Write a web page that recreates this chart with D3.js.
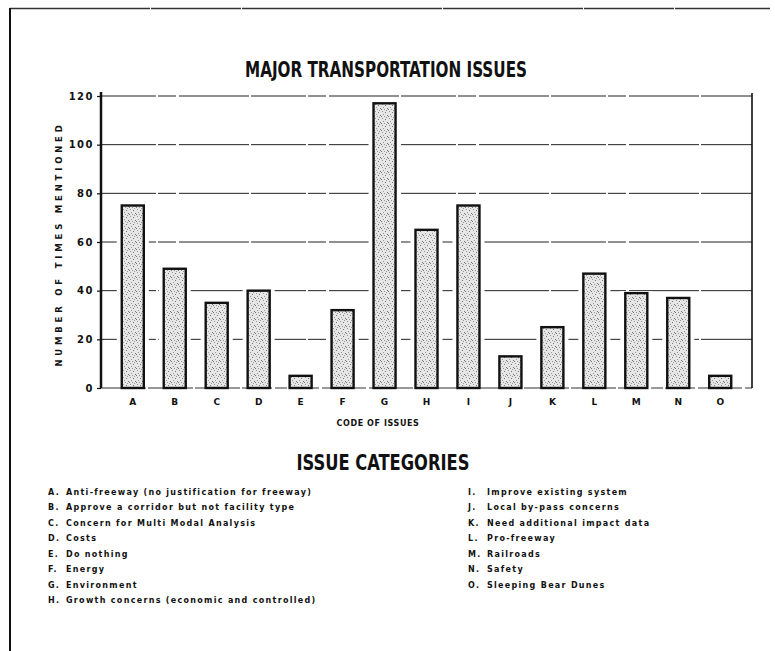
<!DOCTYPE html>
<html>
<head>
<meta charset="utf-8">
<script src="https://cdn.jsdelivr.net/npm/d3@7"></script>
<style>
  body { margin: 0; background: #fff; }
  svg { display: block; }
  text { fill: #111; }
</style>
</head>
<body>
<div id="chart"></div>
<script>
// issue codes and number of times each one was mentioned
var codes = ["A", "B", "C", "D", "E", "F", "G", "H", "I", "J", "K", "L", "M", "N", "O"];
var counts = [75, 49, 35, 40, 5, 32, 117, 65, 75, 13, 25, 47, 39, 37, 5];
var yTicks = [0, 20, 40, 60, 80, 100, 120];

// legend text, two columns
var leftCodes = ["A", "B", "C", "D", "E", "F", "G", "H"];
var leftLabels = [
  "Anti-freeway (no justification for freeway)",
  "Approve a corridor but not facility type",
  "Concern for Multi Modal Analysis",
  "Costs",
  "Do nothing",
  "Energy",
  "Environment",
  "Growth concerns (economic and controlled)"
];
var rightCodes = ["I", "J", "K", "L", "M", "N", "O"];
var rightLabels = [
  "Improve existing system",
  "Local by-pass concerns",
  "Need additional impact data",
  "Pro-freeway",
  "Railroads",
  "Safety",
  "Sleeping Bear Dunes"
];

var W = 775, H = 651;
var margin = {top: 96, right: 23, bottom: 263, left: 101};
var width = W - margin.left - margin.right,
    height = H - margin.top - margin.bottom;

var svg = d3.select("#chart").append("svg")
    .attr("width", W)
    .attr("height", H);

// stipple fill for bars
var defs = svg.append("defs");
var pat = defs.append("pattern")
    .attr("id", "stipple")
    .attr("patternUnits", "userSpaceOnUse")
    .attr("width", 7).attr("height", 7);
pat.append("rect").attr("width", 7).attr("height", 7).attr("fill", "#e6e6e6");
[[1, 1], [4, 2], [2, 4], [6, 5], [5, 0], [0, 6], [3, 6]].forEach(function(p, i) {
  pat.append("rect")
    .attr("x", p[0]).attr("y", p[1])
    .attr("width", 1).attr("height", 1)
    .attr("fill", i % 2 ? "#777" : "#9a9a9a");
});

// page border (top and left edges of the scanned frame)
svg.append("line")
    .attr("x1", 10).attr("x2", 770).attr("y1", 8.5).attr("y2", 8.5)
    .attr("stroke", "#333").attr("stroke-width", 1.3)
    .attr("stroke-dasharray", "140,1,90,1,200,1");
svg.append("line")
    .attr("x1", 10).attr("x2", 10).attr("y1", 8).attr("y2", H)
    .attr("stroke", "#111").attr("stroke-width", 2);

// title
svg.append("text")
    .attr("x", 386).attr("y", 77)
    .attr("text-anchor", "middle")
    .attr("textLength", 282)
    .attr("lengthAdjust", "spacingAndGlyphs")
    .style("font-family", "'Liberation Sans Narrow', 'DejaVu Sans Condensed', sans-serif")
    .style("font-weight", "bold")
    .style("font-size", "22px")
    .text("MAJOR TRANSPORTATION ISSUES");

var g = svg.append("g")
    .attr("transform", "translate(" + margin.left + "," + margin.top + ")");

var x = d3.scaleBand()
    .domain(codes)
    .range([0, width])
    .paddingInner(0.475)
    .paddingOuter(0.495);

var y = d3.scaleLinear()
    .domain([0, 120])
    .range([height, 0]);

// horizontal grid lines
g.append("g")
  .selectAll("line")
  .data(yTicks.filter(function(d) { return d > 0; }))
  .enter().append("line")
    .attr("x1", 0).attr("x2", width)
    .attr("y1", function(d) { return y(d); })
    .attr("y2", function(d) { return y(d); })
    .attr("stroke", "#222")
    .attr("stroke-width", 1)
    .attr("stroke-dasharray", "55,2,18,3,70,2");

// baseline
g.append("line")
    .attr("x1", 0).attr("x2", width)
    .attr("y1", y(0)).attr("y2", y(0))
    .attr("stroke", "#333").attr("stroke-width", 1)
    .attr("stroke-dasharray", "30,3,12,2");

// white gap round each bar, then the bar itself
var bars = g.append("g").selectAll("g")
    .data(counts)
    .enter().append("g");

bars.append("rect")
    .attr("x", function(d, i) { return x(codes[i]) - 5; })
    .attr("y", function(d) { return y(d) - 2; })
    .attr("width", x.bandwidth() + 10)
    .attr("height", function(d) { return height - y(d) + 1; })
    .attr("fill", "#fff");

bars.append("rect")
    .attr("x", function(d, i) { return x(codes[i]); })
    .attr("y", function(d) { return y(d); })
    .attr("width", x.bandwidth())
    .attr("height", function(d) { return height - y(d); })
    .attr("fill", "url(#stipple)")
    .attr("stroke", "#111")
    .attr("stroke-width", 2.4);

// left axis and right frame line
g.append("line")
    .attr("x1", 0).attr("x2", 0).attr("y1", -4).attr("y2", height)
    .attr("stroke", "#111").attr("stroke-width", 2.5);
g.append("line")
    .attr("x1", width).attr("x2", width).attr("y1", -3).attr("y2", height)
    .attr("stroke", "#111").attr("stroke-width", 1.6);

var yAxis = g.append("g")
    .call(d3.axisLeft(y).tickValues(yTicks).tickSize(4).tickPadding(3));
yAxis.select(".domain").remove();
yAxis.selectAll("line").attr("stroke", "#111").attr("stroke-width", 1.2);
yAxis.selectAll("text")
    .style("font-family", "'DejaVu Sans', sans-serif")
    .style("font-weight", "bold")
    .style("font-size", "10px")
    .style("letter-spacing", "1.5px")
    .attr("fill", "#111");

var xAxis = g.append("g")
    .attr("transform", "translate(0," + height + ")")
    .call(d3.axisBottom(x).tickSize(0).tickPadding(11));
xAxis.select(".domain").remove();
xAxis.selectAll("text")
    .style("font-family", "'DejaVu Sans', sans-serif")
    .style("font-weight", "bold")
    .style("font-size", "9px")
    .attr("fill", "#111");

// axis titles
g.append("text")
    .attr("transform", "translate(-39," + (height / 2 + 2) + ") rotate(-90)")
    .attr("text-anchor", "middle")
    .style("font-family", "'DejaVu Sans', sans-serif")
    .style("font-weight", "bold")
    .style("font-size", "8.5px")
    .style("letter-spacing", "3.8px")
    .text("NUMBER OF TIMES MENTIONED");

g.append("text")
    .attr("x", 277).attr("y", height + 38)
    .attr("text-anchor", "middle")
    .style("font-family", "'DejaVu Sans', sans-serif")
    .style("font-weight", "bold")
    .style("font-size", "8px")
    .style("letter-spacing", "0.6px")
    .text("CODE OF ISSUES");

// legend block
svg.append("text")
    .attr("x", 383).attr("y", 470)
    .attr("text-anchor", "middle")
    .attr("textLength", 173)
    .attr("lengthAdjust", "spacingAndGlyphs")
    .style("font-family", "'Liberation Sans Narrow', 'DejaVu Sans Condensed', sans-serif")
    .style("font-weight", "bold")
    .style("font-size", "21px")
    .text("ISSUE CATEGORIES");

var rowY = d3.scalePoint().domain(d3.range(8)).range([495, 603]);

function legendColumn(cds, labels, xCode, xText) {
  var col = svg.append("g");
  col.selectAll("text.code")
    .data(cds)
    .enter().append("text")
      .attr("class", "code")
      .attr("x", xCode)
      .attr("y", function(d, i) { return rowY(i); })
      .text(function(d) { return d + "."; });
  col.selectAll("text.lab")
    .data(labels)
    .enter().append("text")
      .attr("class", "lab")
      .attr("x", xText)
      .attr("y", function(d, i) { return rowY(i); })
      .text(function(d) { return d; });
  col.selectAll("text")
    .style("font-family", "'DejaVu Sans', sans-serif")
    .style("font-weight", "bold")
    .style("font-size", "8px")
    .style("letter-spacing", "1.3px");
}
legendColumn(leftCodes, leftLabels, 48, 66);
legendColumn(rightCodes, rightLabels, 468, 487);
</script>
</body>
</html>
